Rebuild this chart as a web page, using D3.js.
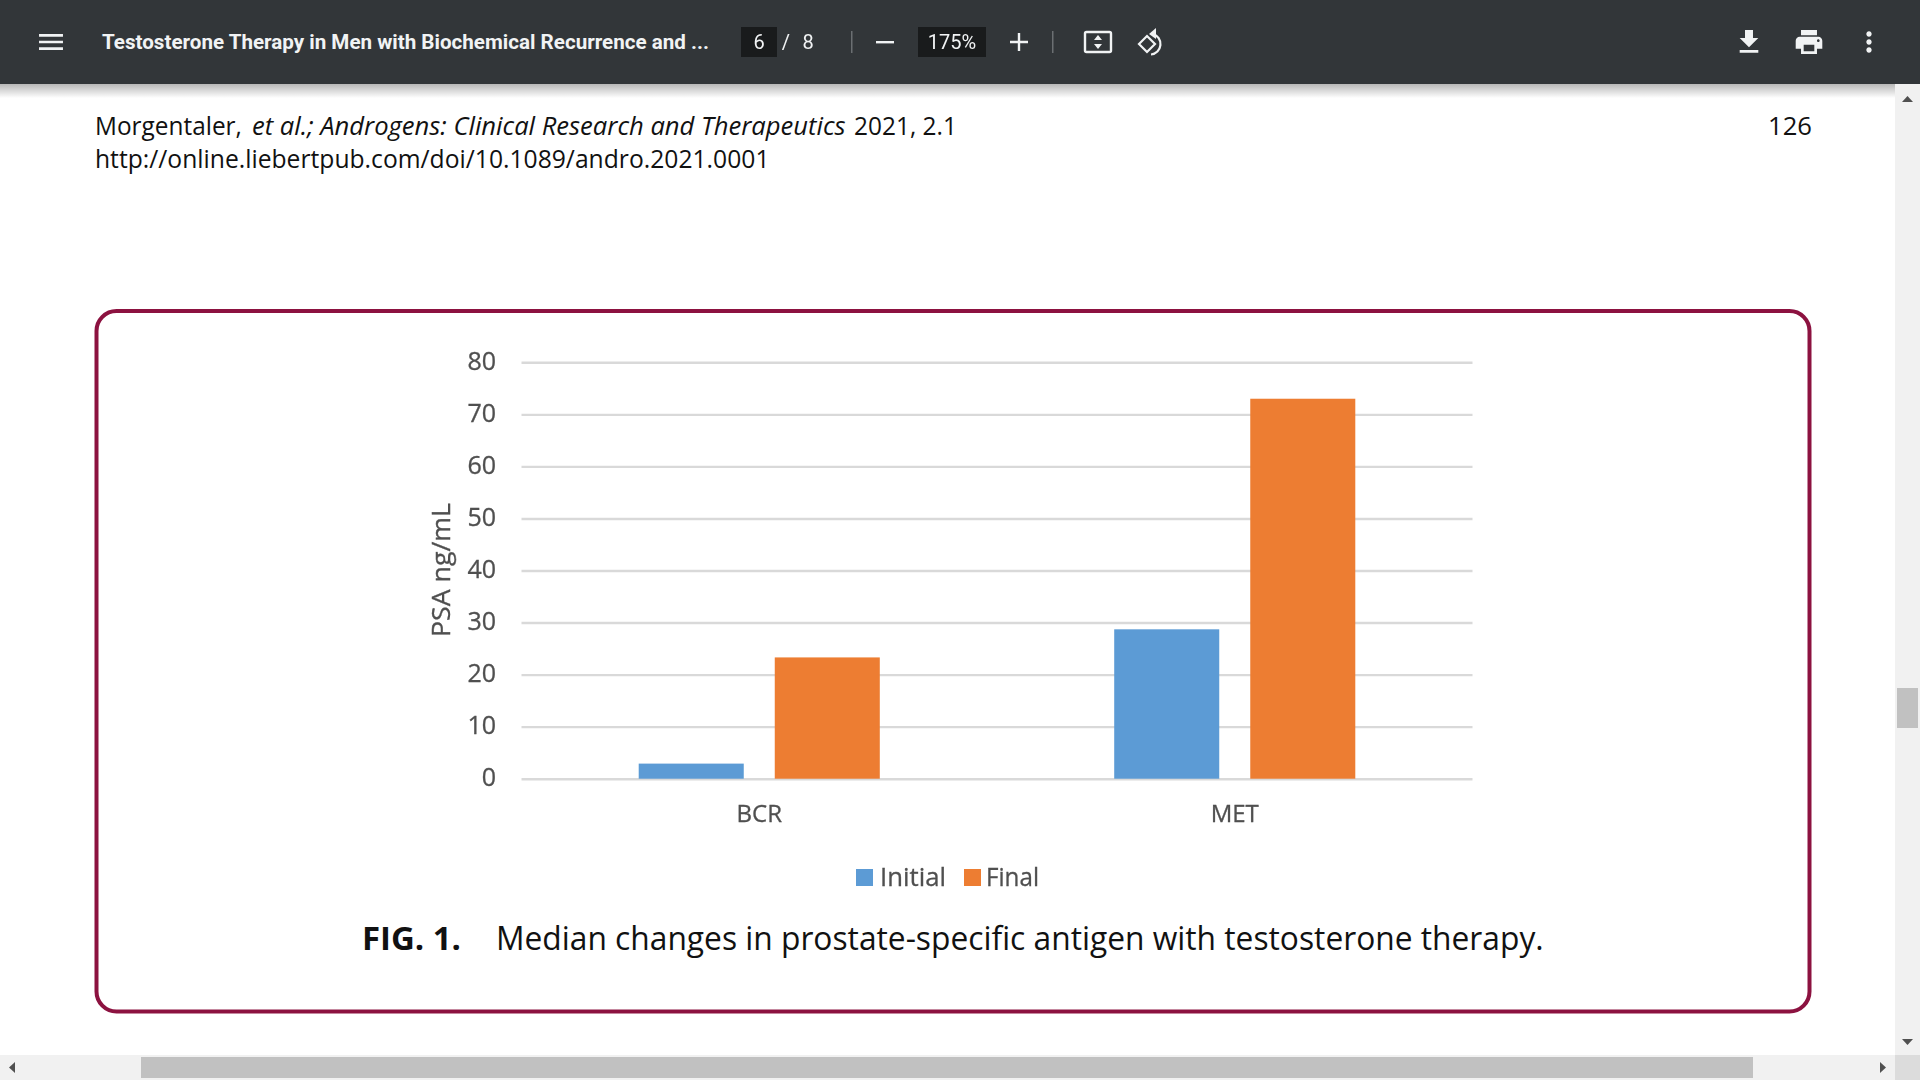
<!DOCTYPE html>
<html>
<head>
<meta charset="utf-8">
<title>PSA chart</title>
<script src="https://cdn.jsdelivr.net/npm/d3@7"></script>
<style>
  html, body { margin: 0; padding: 0; background: #fff; overflow: hidden; }
  svg { display: block; }
  .ui { font-family: Roboto, sans-serif; fill: #f1f3f4; }
  .doc { font-family: "Open Sans", sans-serif; fill: #111; }
  .chart-text { font-family: "Open Sans", sans-serif; fill: #505050; stroke: #505050; stroke-width: 0.3; }
  .grid line { stroke: #d9d9d9; stroke-width: 2.4; }
  .grid path { display: none; }
</style>
</head>
<body>
<svg id="page" width="1920" height="1080"></svg>
<script>
// chart data
const categories = ['BCR', 'MET'];
const seriesNames = ['Initial', 'Final'];
const initialValues = [2.9, 28.7];
const finalValues = [23.3, 73];
const yTicks = [0, 10, 20, 30, 40, 50, 60, 70, 80];
const seriesColors = ['#5b9bd5', '#ed7d31'];

const svg = d3.select('#page');

const defs = svg.append('defs');
const shadow = defs.append('linearGradient')
    .attr('id', 'toolbar-shadow')
    .attr('x1', 0).attr('y1', 0).attr('x2', 0).attr('y2', 1);
shadow.append('stop').attr('offset', 0).attr('stop-color', '#000').attr('stop-opacity', 0.28);
shadow.append('stop').attr('offset', 1).attr('stop-color', '#000').attr('stop-opacity', 0);
defs.append('filter').attr('id', 'soft')
    .append('feGaussianBlur').attr('stdDeviation', 0.55);

// ---- document page ----
// squeezes a text to the width it has in the picture
function fitText(parent, cls, x, y, size, width, text, style) {
    const t = parent.append('text')
        .attr('class', cls)
        .attr('font-size', size)
        .attr('font-style', style && style.italic ? 'italic' : 'normal')
        .attr('font-weight', style && style.weight ? style.weight : 400)
        .text(text);
    const k = width / t.node().getComputedTextLength();
    t.attr('transform', `translate(${x},${y}) scale(${k},1)`);
    return t;
}

fitText(svg, 'doc', 95, 135, 26, 147, 'Morgentaler,');
fitText(svg, 'doc', 252, 135, 26, 594, 'et al.; Androgens: Clinical Research and Therapeutics', { italic: true });
fitText(svg, 'doc', 854, 135, 26, 103, '2021, 2.1');
fitText(svg, 'doc', 95, 168, 26, 675, 'http://online.liebertpub.com/doi/10.1089/andro.2021.0001');
fitText(svg, 'doc', 1768, 135, 26, 44, '126');

// figure frame
svg.append('rect')
    .attr('x', 96.5)
    .attr('y', 311)
    .attr('width', 1713)
    .attr('height', 700.5)
    .attr('rx', 20)
    .attr('fill', 'none')
    .attr('stroke', '#8c1240')
    .attr('stroke-width', 4);

// ---- chart ----
const x0 = d3.scaleBand()
    .domain(categories)
    .range([521.5, 1472.5])
    .paddingInner(0.493)
    .paddingOuter(0.2465);

const x1 = d3.scaleBand()
    .domain(seriesNames)
    .range([0, x0.bandwidth()])
    .paddingInner(0.228);

const y = d3.scaleLinear()
    .domain([0, 80])
    .range([778.7, 362.3]);

const chart = svg.append('g').attr('filter', 'url(#soft)');

chart.append('g')
    .attr('class', 'grid')
    .attr('transform', 'translate(521.5,0)')
    .call(d3.axisLeft(y).tickValues(yTicks).tickSize(-951).tickFormat(''));

const rows = seriesNames.map((name, i) => ({
    name,
    color: seriesColors[i],
    values: i === 0 ? initialValues : finalValues
}));

chart.selectAll('g.series')
    .data(rows)
    .enter()
    .append('g')
    .attr('class', 'series')
    .attr('fill', d => d.color)
    .selectAll('rect')
    .data(d => d.values.map((v, i) => ({ name: d.name, cat: categories[i], value: v })))
    .enter()
    .append('rect')
    .attr('x', d => x0(d.cat) + x1(d.name))
    .attr('y', d => y(d.value))
    .attr('width', x1.bandwidth())
    .attr('height', d => y(0) - y(d.value));

chart.selectAll('text.tick-label')
    .data(yTicks)
    .enter()
    .append('text')
    .attr('class', 'chart-text tick-label')
    .attr('x', 496)
    .attr('y', d => y(d) - 1.5)
    .attr('dy', '0.35em')
    .attr('text-anchor', 'end')
    .attr('font-size', 25)
    .text(d => d);

chart.selectAll('text.cat-label')
    .data(categories)
    .enter()
    .append('text')
    .attr('class', 'chart-text cat-label')
    .attr('x', d => x0(d) + x0.bandwidth() / 2)
    .attr('y', 822)
    .attr('text-anchor', 'middle')
    .attr('font-size', 24)
    .text(d => d);

chart.append('text')
    .attr('class', 'chart-text')
    .attr('transform', 'translate(450,570) rotate(-90)')
    .attr('text-anchor', 'middle')
    .attr('font-size', 25)
    .attr('textLength', 134)
    .attr('lengthAdjust', 'spacingAndGlyphs')
    .text('PSA ng/mL');

// legend
const legendX = d3.scaleOrdinal().domain(seriesNames).range([856, 964]);
const legendW = d3.scaleOrdinal().domain(seriesNames).range([66, 53]);
const legendGap = d3.scaleOrdinal().domain(seriesNames).range([24, 22]);

chart.selectAll('rect.legend-key')
    .data(rows)
    .enter()
    .append('rect')
    .attr('class', 'legend-key')
    .attr('x', d => legendX(d.name))
    .attr('y', 869)
    .attr('width', 17)
    .attr('height', 17)
    .attr('fill', d => d.color);

chart.selectAll('text.legend-label')
    .data(rows)
    .enter()
    .append('text')
    .attr('class', 'chart-text legend-label')
    .attr('x', d => legendX(d.name) + legendGap(d.name))
    .attr('y', 886)
    .attr('font-size', 25)
    .attr('textLength', d => legendW(d.name))
    .attr('lengthAdjust', 'spacingAndGlyphs')
    .text(d => d.name);

// caption
fitText(svg, 'doc', 362, 950, 32, 99, 'FIG. 1.', { weight: 700 });
fitText(svg, 'doc', 496, 950, 32, 1048, 'Median changes in prostate-specific antigen with testosterone therapy.');

// ---- viewer chrome ----
svg.append('rect').attr('x', 0).attr('y', 84).attr('width', 1920).attr('height', 14)
    .attr('fill', 'url(#toolbar-shadow)');
svg.append('rect').attr('width', 1920).attr('height', 84).attr('fill', '#323639');

function icon(path, cx, cy, scale, fill) {
    svg.append('path')
        .attr('d', path)
        .attr('fill', fill || '#f1f3f4')
        .attr('transform', `translate(${cx},${cy}) scale(${scale}) translate(-12,-12)`);
}

icon('M3 18h18v-2H3v2zm0-5h18v-2H3v2zm0-7v2h18V6H3z', 51, 42, 1.33);
icon('M19 9h-4V3H9v6H5l7 7 7-7zM5 18v2h14v-2H5z', 1749, 42, 1.33);
icon('M19 8H5c-1.66 0-3 1.34-3 3v6h4v4h12v-4h4v-6c0-1.66-1.34-3-3-3zm-3 11H8v-5h8v5zm3-7c-.55 0-1-.45-1-1s.45-1 1-1 1 .45 1 1-.45 1-1 1zm-1-9H6v4h12V3z', 1809, 42, 1.33);
icon('M12 8c1.1 0 2-.9 2-2s-.9-2-2-2-2 .9-2 2 .9 2 2 2zm0 2c-1.1 0-2 .9-2 2s.9 2 2 2 2-.9 2-2-.9-2-2-2zm0 6c-1.1 0-2 .9-2 2s.9 2 2 2 2-.9 2-2-.9-2-2-2z', 1869, 42, 1.33);

fitText(svg, 'ui', 102, 49, 21, 607, 'Testosterone Therapy in Men with Biochemical Recurrence and ...', { weight: 700 });

svg.append('rect').attr('x', 741).attr('y', 27).attr('width', 36).attr('height', 30).attr('fill', '#191b1c');
svg.append('rect').attr('x', 918).attr('y', 27).attr('width', 68).attr('height', 30).attr('fill', '#191b1c');

const uiText = [
    { text: '6', x: 759 },
    { text: '/', x: 786 },
    { text: '8', x: 808 },
    { text: '175%', x: 952 }
];
svg.selectAll('text.ui-label')
    .data(uiText)
    .enter()
    .append('text')
    .attr('class', 'ui ui-label')
    .attr('x', d => d.x)
    .attr('y', 49)
    .attr('text-anchor', 'middle')
    .attr('font-size', 20)
    .text(d => d.text);

// dividers, zoom buttons
[851, 1052].forEach(px => {
    svg.append('rect').attr('x', px).attr('y', 31).attr('width', 1.5).attr('height', 22).attr('fill', '#6b6f72');
});
svg.append('rect').attr('x', 876).attr('y', 41).attr('width', 18).attr('height', 2.4).attr('fill', '#f1f3f4');
svg.append('path').attr('d', 'M1010 42h18M1019 33v18').attr('stroke', '#f1f3f4').attr('stroke-width', 2.4);

// fit to page icon
svg.append('rect').attr('x', 1085).attr('y', 32).attr('width', 26).attr('height', 20).attr('rx', 1.5)
    .attr('fill', 'none').attr('stroke', '#f1f3f4').attr('stroke-width', 2.4);
svg.append('path').attr('d', 'M1098 35l-4 5h8zM1098 49l-4 -5h8z').attr('fill', '#f1f3f4');

// rotate icon
svg.append('path').attr('d', 'M1139 44l8 -8 8 8 -8 8z')
    .attr('fill', 'none').attr('stroke', '#f1f3f4').attr('stroke-width', 2.2);
svg.append('path').attr('d', 'M1153 34a10.5 10.5 0 0 1 -2 20.5')
    .attr('fill', 'none').attr('stroke', '#f1f3f4').attr('stroke-width', 2.2);
svg.append('path').attr('d', 'M1156 28v11l-7 -5z').attr('fill', '#f1f3f4');

// scrollbars
svg.append('rect').attr('x', 1895).attr('y', 84).attr('width', 25).attr('height', 971).attr('fill', '#f1f1f1');
svg.append('rect').attr('x', 0).attr('y', 1055).attr('width', 1895).attr('height', 25).attr('fill', '#f1f1f1');
svg.append('rect').attr('x', 1895).attr('y', 1055).attr('width', 25).attr('height', 25).attr('fill', '#dcdcdc');
svg.append('rect').attr('x', 1897).attr('y', 688).attr('width', 21).attr('height', 40).attr('fill', '#c1c1c1');
svg.append('rect').attr('x', 141).attr('y', 1057).attr('width', 1612).attr('height', 21).attr('fill', '#c1c1c1');
svg.append('path').attr('d', 'M1902 102l5.5 -6 5.5 6z').attr('fill', '#505050');
svg.append('path').attr('d', 'M1902 1039l5.5 6 5.5 -6z').attr('fill', '#505050');
svg.append('path').attr('d', 'M15 1062l-6 5.5 6 5.5z').attr('fill', '#505050');
svg.append('path').attr('d', 'M1880 1062l6 5.5 -6 5.5z').attr('fill', '#505050');
</script>
</body>
</html>
